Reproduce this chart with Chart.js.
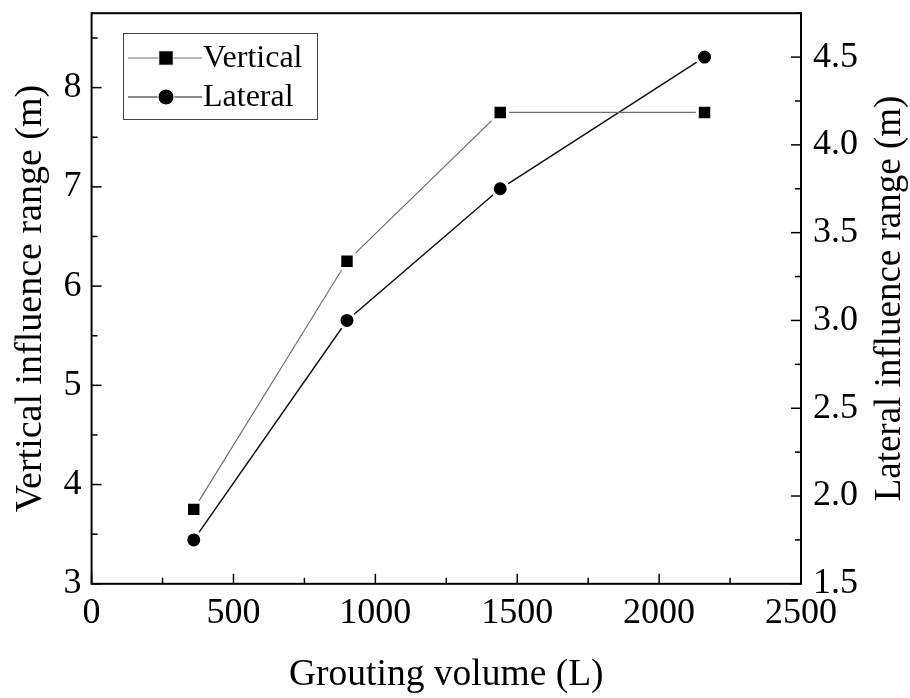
<!DOCTYPE html>
<html>
<head>
<meta charset="utf-8">
<script src="https://cdn.jsdelivr.net/npm/chart.js@4/dist/chart.umd.min.js"></script>
<style>
  body { margin: 0; background: #fff; }
  #wrap { width: 910px; height: 698px; }
</style>
</head>
<body>
<div id="wrap"><canvas id="rangeChart"></canvas></div>
<script>
// dados
const volume = [360, 900, 1440, 2160];
const verticalRange = [3.75, 6.25, 7.75, 7.75];
const lateralRange = [1.75, 3.0, 3.75, 4.5];
const seriesNames = ['Vertical', 'Lateral'];
const xTitle = 'Grouting volume (L)';
const yTitle = 'Vertical influence range (m)';
const y1Title = 'Lateral influence range (m)';

const FONT = "'Liberation Serif', 'Times New Roman', serif";

// ticks para dentro + ticks menores + moldura
const frameTicks = {
  id: 'frameTicks',
  afterDraw(chart) {
    const ctx = chart.ctx;
    const a = chart.chartArea;
    ctx.save();
    ctx.strokeStyle = '#000';
    ctx.lineWidth = 2;
    ctx.strokeRect(a.left, a.top, a.right - a.left, a.bottom - a.top);
    ctx.lineWidth = 1.5;
    const drawTicks = (scale, step, side) => {
      const n = Math.floor((scale.max - scale.min) / (step / 2) + 1e-9);
      for (let i = 0; i <= n; i++) {
        const v = scale.min + i * step / 2;
        const len = i % 2 === 0 ? 10 : 6;
        const p = scale.getPixelForValue(v);
        ctx.beginPath();
        if (side === 'bottom') { ctx.moveTo(p, a.bottom); ctx.lineTo(p, a.bottom - len); }
        if (side === 'left') { ctx.moveTo(a.left, p); ctx.lineTo(a.left + len, p); }
        if (side === 'right') { ctx.moveTo(a.right, p); ctx.lineTo(a.right - len, p); }
        ctx.stroke();
      }
    };
    drawTicks(chart.scales.x, 500, 'bottom');
    drawTicks(chart.scales.y, 1, 'left');
    drawTicks(chart.scales.y1, 0.5, 'right');

    // título do eixo direito (lido de baixo para cima)
    const s = chart.scales.y1;
    ctx.fillStyle = '#000';
    ctx.font = '37px ' + FONT;
    ctx.textAlign = 'center';
    ctx.textBaseline = 'middle';
    ctx.translate(s.right - 16, (a.top + a.bottom) / 2);
    ctx.rotate(-Math.PI / 2);
    ctx.fillText(y1Title, 0, 0);
    ctx.restore();
  }
};

// legenda dentro da área do gráfico
const innerLegend = {
  id: 'innerLegend',
  afterDraw(chart) {
    const ctx = chart.ctx;
    const box = { x: 123.5, y: 33.5, w: 194, h: 86 };
    ctx.save();
    ctx.fillStyle = '#fff';
    ctx.fillRect(box.x, box.y, box.w, box.h);
    ctx.strokeStyle = '#444';
    ctx.lineWidth = 1;
    ctx.strokeRect(box.x, box.y, box.w, box.h);
    chart.data.datasets.forEach((ds, i) => {
      const cy = 58 + i * 39;
      ctx.strokeStyle = ds.borderColor;
      ctx.lineWidth = 1;
      ctx.beginPath();
      ctx.moveTo(128, cy);
      ctx.lineTo(202, cy);
      ctx.stroke();
      ctx.fillStyle = '#000';
      ctx.strokeStyle = '#fff';
      Chart.helpers.drawPoint(ctx, {
        pointStyle: ds.pointStyle,
        radius: ds.pointRadius,
        borderWidth: 3
      }, 166, cy);
      ctx.fillStyle = '#000';
      ctx.font = '32px ' + FONT;
      ctx.textAlign = 'left';
      ctx.textBaseline = 'middle';
      ctx.fillText(ds.label, 203, cy + 1);
    });
    ctx.restore();
  }
};

// sem folga extra no topo/base dos eixos verticais
const noPad = (scale) => { scale.paddingTop = 0; scale.paddingBottom = 0; };

const rangeChart = new Chart(document.getElementById('rangeChart').getContext('2d'), {
  type: 'line',
  data: {
    datasets: [
      {
        label: seriesNames[0],
        data: volume.map((v, i) => ({ x: v, y: verticalRange[i] })),
        borderColor: '#707070',
        borderWidth: 1.2,
        pointStyle: 'rect',
        pointRadius: 10.2,
        pointBackgroundColor: '#000',
        pointBorderColor: '#fff',
        pointBorderWidth: 3,
        yAxisID: 'y',
        fill: false
      },
      {
        label: seriesNames[1],
        data: volume.map((v, i) => ({ x: v, y: lateralRange[i] })),
        borderColor: '#111',
        borderWidth: 1.5,
        pointStyle: 'circle',
        pointRadius: 8,
        pointBackgroundColor: '#000',
        pointBorderColor: '#fff',
        pointBorderWidth: 3,
        yAxisID: 'y1',
        fill: false
      }
    ]
  },
  options: {
    responsive: true,
    maintainAspectRatio: false,
    animation: false,
    layout: { padding: { top: 9, left: 2, right: 4, bottom: 0 } },
    plugins: {
      legend: { display: false },
      tooltip: { enabled: false }
    },
    scales: {
      x: {
        type: 'linear',
        min: 0,
        max: 2500,
        grid: { display: false, drawTicks: false },
        border: { display: false },
        ticks: { stepSize: 500, includeBounds: false, padding: 8, color: '#000', maxRotation: 0,
          callback: (v) => String(v),
          font: { family: FONT, size: 36 } },
        title: { display: true, text: xTitle, color: '#000', padding: { top: 10, bottom: 0 },
          font: { family: FONT, size: 37.5 } }
      },
      y: {
        type: 'linear',
        position: 'left',
        min: 3,
        max: 8.75,
        afterFit: noPad,
        grid: { display: false, drawTicks: false },
        border: { display: false },
        ticks: { stepSize: 1, includeBounds: false, padding: 10, color: '#000',
          font: { family: FONT, size: 36 } },
        title: { display: true, text: yTitle, color: '#000', padding: { top: 6, bottom: 0 },
          font: { family: FONT, size: 38 } }
      },
      y1: {
        type: 'linear',
        position: 'right',
        min: 1.5,
        max: 4.75,
        afterFit: noPad,
        grid: { display: false, drawTicks: false },
        border: { display: false },
        ticks: { stepSize: 0.5, includeBounds: false, padding: 12, color: '#000',
          callback: (v) => v.toFixed(1),
          font: { family: FONT, size: 36 } },
        title: { display: true, text: y1Title, color: 'rgba(0,0,0,0)', padding: { top: 0, bottom: 0 },
          font: { family: FONT, size: 30 } }
      }
    }
  },
  plugins: [frameTicks, innerLegend]
});
</script>
</body>
</html>
